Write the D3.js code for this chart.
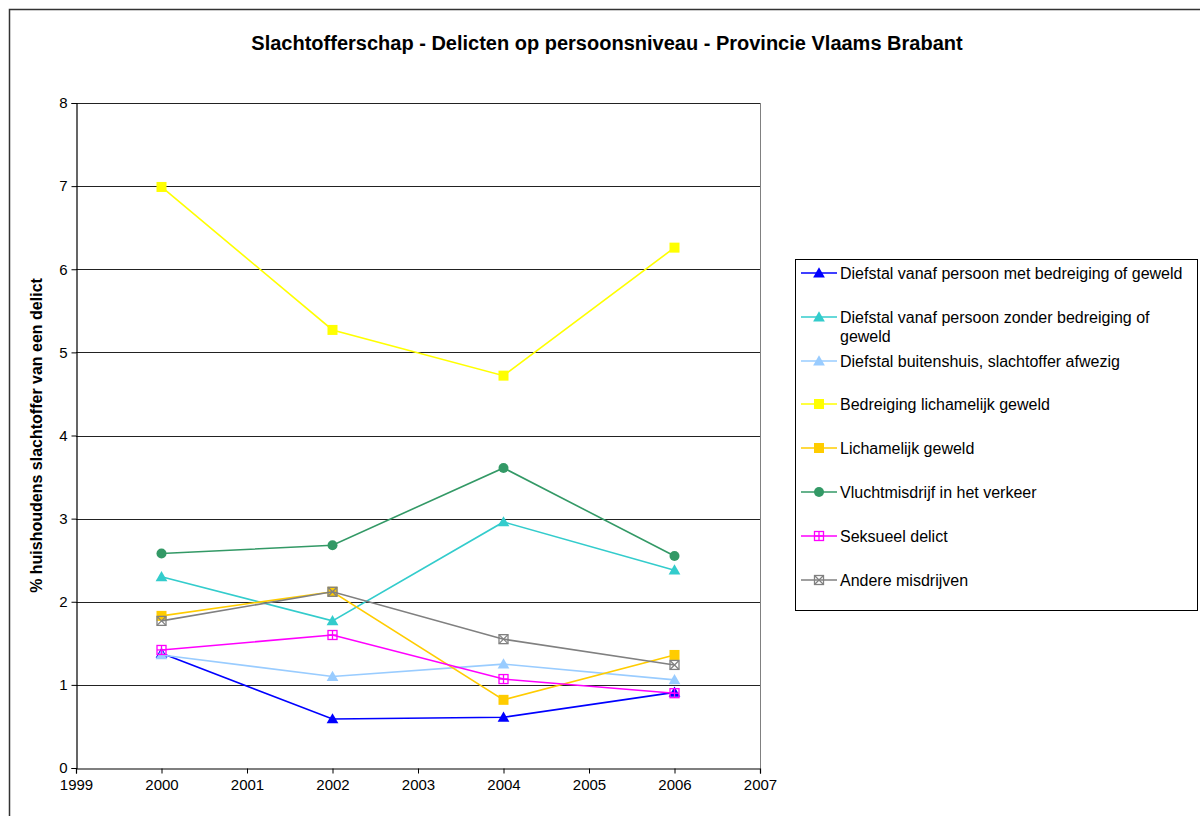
<!DOCTYPE html>
<html>
<head>
<meta charset="utf-8">
<script src="https://cdn.jsdelivr.net/npm/d3@7"></script>
<style>
  body { margin: 0; background: #fff; }
  svg { display: block; font-family: "Liberation Sans", Arial, sans-serif; }
</style>
</head>
<body>
<div id="chart"></div>
<script>
(() => {

// DATA
const years = [2000, 2002, 2004, 2006];
const seriesNames = [
  "Diefstal vanaf persoon met bedreiging of geweld",
  "Diefstal vanaf persoon zonder bedreiging of geweld",
  "Diefstal buitenshuis, slachtoffer afwezig",
  "Bedreiging lichamelijk geweld",
  "Lichamelijk geweld",
  "Vluchtmisdrijf in het verkeer",
  "Seksueel delict",
  "Andere misdrijven"
];
const metGeweld     = [1.38, 0.59, 0.61, 0.91];
const zonderGeweld  = [2.30, 1.77, 2.96, 2.38];
const buitenshuis   = [1.36, 1.10, 1.25, 1.06];
const bedreiging    = [6.99, 5.27, 4.72, 6.26];
const lichamelijk   = [1.83, 2.12, 0.82, 1.36];
const vluchtmisdrijf= [2.58, 2.68, 3.61, 2.55];
const seksueel      = [1.42, 1.60, 1.07, 0.90];
const andere        = [1.77, 2.12, 1.55, 1.24];
const xTicks = [1999, 2000, 2001, 2002, 2003, 2004, 2005, 2006, 2007];
const yTicks = [0, 1, 2, 3, 4, 5, 6, 7, 8];

const values = [metGeweld, zonderGeweld, buitenshuis, bedreiging, lichamelijk, vluchtmisdrijf, seksueel, andere];
const colors = ["#0000ff", "#33cccc", "#99ccff", "#ffff00", "#ffcc00", "#339966", "#ff00ff", "#808080"];
const markers = ["triangle", "triangle", "triangle", "square", "square", "circle", "squarePlus", "squareX"];

const width = 1200, height = 816;
const plot = { left: 76, right: 760, top: 103, bottom: 768 };

const svg = d3.select("#chart")
  .append("svg")
  .attr("width", width)
  .attr("height", height);

// outer chart border
svg.append("rect")
  .attr("x", 9.5).attr("y", 9.5)
  .attr("width", 1300).attr("height", 1000)
  .attr("fill", "none")
  .attr("stroke", "#333")
  .attr("stroke-width", 1.5);

const x = d3.scaleLinear().domain([1999, 2007]).range([plot.left, plot.right]);
const y = d3.scaleLinear().domain([0, 8]).range([plot.bottom, plot.top]);

// gridlines
svg.append("g")
  .selectAll("line")
  .data(yTicks.slice(1))
  .enter()
  .append("line")
  .attr("x1", plot.left).attr("x2", plot.right)
  .attr("y1", d => Math.round(y(d)) + 0.5)
  .attr("y2", d => Math.round(y(d)) + 0.5)
  .attr("stroke", "#222")
  .attr("stroke-width", 1);

// plot area right border
svg.append("line")
  .attr("x1", plot.right + 0.5).attr("x2", plot.right + 0.5)
  .attr("y1", plot.top).attr("y2", plot.bottom)
  .attr("stroke", "#808080");

// axes
const xAxis = svg.append("g")
  .attr("transform", `translate(0,${plot.bottom + 0.5})`)
  .call(d3.axisBottom(x).tickValues(xTicks).tickFormat(d3.format("d")).tickSizeOuter(0).tickSize(5));
const yAxis = svg.append("g")
  .attr("transform", `translate(${plot.left + 0.5},0)`)
  .call(d3.axisLeft(y).tickValues(yTicks).tickSizeOuter(0).tickSize(5));

[xAxis, yAxis].forEach(a => {
  a.select(".domain").attr("stroke", "#000").attr("stroke-width", 1.2);
  a.selectAll(".tick line").attr("stroke", "#000");
  a.selectAll("text").attr("fill", "#000").style("font-size", "15px").style("font-family", "Liberation Sans, Arial, sans-serif");
});
xAxis.selectAll("text").attr("y", 11).attr("dy", "0.71em");
yAxis.selectAll("text").attr("x", -9);

// title
svg.append("text")
  .attr("x", 607).attr("y", 50)
  .attr("text-anchor", "middle")
  .style("font-size", "20px")
  .style("font-weight", "bold")
  .text("Slachtofferschap - Delicten op persoonsniveau - Provincie Vlaams Brabant");

// y label
svg.append("text")
  .attr("transform", `translate(42,${(plot.top + plot.bottom) / 2}) rotate(-90)`)
  .attr("text-anchor", "middle")
  .style("font-size", "16px")
  .style("font-weight", "bold")
  .text("% huishoudens slachtoffer van een delict");

// marker drawing
function drawMarker(g, type, color, cx, cy) {
  if (type === "triangle") {
    g.append("path")
      .attr("d", d3.symbol().type(d3.symbolTriangle).size(60)())
      .attr("transform", `translate(${cx},${cy + 1})`)
      .attr("fill", color);
  } else if (type === "square") {
    g.append("rect")
      .attr("x", cx - 5).attr("y", cy - 5).attr("width", 10).attr("height", 10)
      .attr("fill", color);
  } else if (type === "circle") {
    g.append("circle").attr("cx", cx).attr("cy", cy).attr("r", 5).attr("fill", color);
  } else {
    g.append("rect")
      .attr("x", cx - 4.5).attr("y", cy - 4.5).attr("width", 9).attr("height", 9)
      .attr("fill", "none").attr("stroke", color).attr("stroke-width", 1.3);
    const segs = type === "squarePlus"
      ? [[cx, cy - 4.5, cx, cy + 4.5], [cx - 4.5, cy, cx + 4.5, cy]]
      : [[cx - 4.5, cy - 4.5, cx + 4.5, cy + 4.5], [cx - 4.5, cy + 4.5, cx + 4.5, cy - 4.5]];
    segs.forEach(s => g.append("line")
      .attr("x1", s[0]).attr("y1", s[1]).attr("x2", s[2]).attr("y2", s[3])
      .attr("stroke", color).attr("stroke-width", 1.3));
  }
}

const line = d3.line().x((d, i) => x(years[i])).y(d => y(d));

values.forEach((vals, si) => {
  const g = svg.append("g");
  g.append("path")
    .datum(vals)
    .attr("d", line)
    .attr("fill", "none")
    .attr("stroke", colors[si])
    .attr("stroke-width", 1.6);
  vals.forEach((v, i) => drawMarker(g, markers[si], colors[si], x(years[i]), y(v)));
});

// legend
const legend = svg.append("g");
legend.append("rect")
  .attr("x", 795.5).attr("y", 259.5)
  .attr("width", 402).attr("height", 351)
  .attr("fill", "#fff")
  .attr("stroke", "#000");

const legendRowY = [273, 317, 361, 404, 448, 492, 536, 580];
seriesNames.forEach((name, i) => {
  const ly = legendRowY[i];
  const g = legend.append("g");
  g.append("line")
    .attr("x1", 801).attr("x2", 837).attr("y1", ly).attr("y2", ly)
    .attr("stroke", colors[i]).attr("stroke-width", 1.6);
  drawMarker(g, markers[i], colors[i], 819, ly);
  const t = g.append("text")
    .attr("x", 840).attr("y", ly + 6)
    .style("font-size", "16px");
  if (i === 1) {
    t.append("tspan").attr("x", 840).text("Diefstal vanaf persoon zonder bedreiging of");
    t.append("tspan").attr("x", 840).attr("dy", 19).text("geweld");
  } else {
    t.text(name);
  }
});

})();
</script>
</body>
</html>
